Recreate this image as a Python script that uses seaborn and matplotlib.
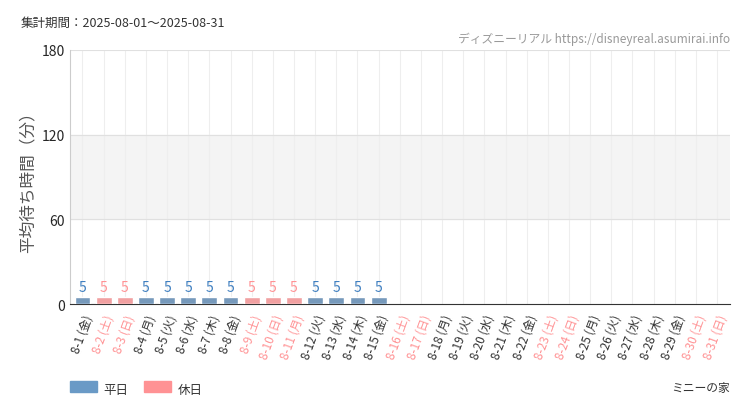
import numpy as np
import pandas as pd
import seaborn as sns
import matplotlib.pyplot as plt

sns.set_style("white")
plt.rcParams['font.family'] = ['Noto Sans CJK JP', 'DejaVu Sans']

days = list(range(1, 32))
weekdays = ["金", "土", "日", "月", "火", "水", "木"]
holidays = [2, 3, 9, 10, 11, 16, 17, 23, 24, 30, 31]
wait = [5] * 15 + [np.nan] * 16

BLUE = "#6a9ac6"
PINK = "#ff9294"
labels = [f"8-{d} ({weekdays[(d - 1) % 7]})" for d in days]
df = pd.DataFrame({"day": labels, "wait": wait,
                   "kind": ["休日" if d in holidays else "平日" for d in days]})

fig = plt.figure(figsize=(7.5, 4.1), dpi=100)
ax = fig.add_axes([0.093, 0.256, 0.88, 0.62])
ax.axhspan(60, 120, color="#f4f4f4", zorder=0)
sns.barplot(data=df, x="day", y="wait", hue="kind", hue_order=["平日", "休日"],
            palette={"平日": BLUE, "休日": PINK}, dodge=False, width=0.75,
            legend=False, ax=ax, zorder=3)
for i, (d, v) in enumerate(zip(days, wait)):
    if not np.isnan(v):
        ax.text(i, v + 2, f"{v:g}", ha="center", va="bottom", fontsize=10,
                color=PINK if d in holidays else "#3f7fc0")
ax.set_ylim(0, 180)
ax.set_xlim(-0.6, 30.6)
ax.set_yticks([0, 60, 120, 180])
ax.tick_params(axis="y", labelsize=10, length=0)
ax.set_xticks(range(31))
ax.set_xticklabels(labels, rotation=70, ha="right", rotation_mode="anchor", fontsize=8.5)
for lab, d in zip(ax.get_xticklabels(), days):
    lab.set_color(PINK if d in holidays else "#333333")
ax.tick_params(axis="x", length=4, color="#333333", pad=2)
for x in range(31):
    ax.axvline(x, color="#eeeeee", lw=0.8, zorder=1)
for y in [60, 120, 180]:
    ax.axhline(y, color="#e0e0e0", lw=0.8, zorder=1)
ax.set_xlabel("")
ax.set_ylabel("平均待ち時間（分）", fontsize=12, color="#555555")
for s in ["top", "right"]:
    ax.spines[s].set_visible(False)
ax.spines["left"].set_color("#cccccc")
ax.spines["bottom"].set_color("#333333")

fig.text(0.027, 0.935, "集計期間：2025-08-01～2025-08-31", fontsize=9, color="#333333")
fig.text(0.973, 0.895, "ディズニーリアル https://disneyreal.asumirai.info", fontsize=8.5,
         color="#999999", ha="right")
fig.text(0.973, 0.045, "ミニーの家", fontsize=8.5, color="#333333", ha="right")
for x, c, t in [(0.093, BLUE, "平日"), (0.192, PINK, "休日")]:
    fig.patches.append(plt.Rectangle((x, 0.042), 0.036, 0.026, color=c, transform=fig.transFigure))
    fig.text(x + 0.045, 0.04, t, fontsize=9, color="#333333")

fig.savefig("out.png", dpi=100)
